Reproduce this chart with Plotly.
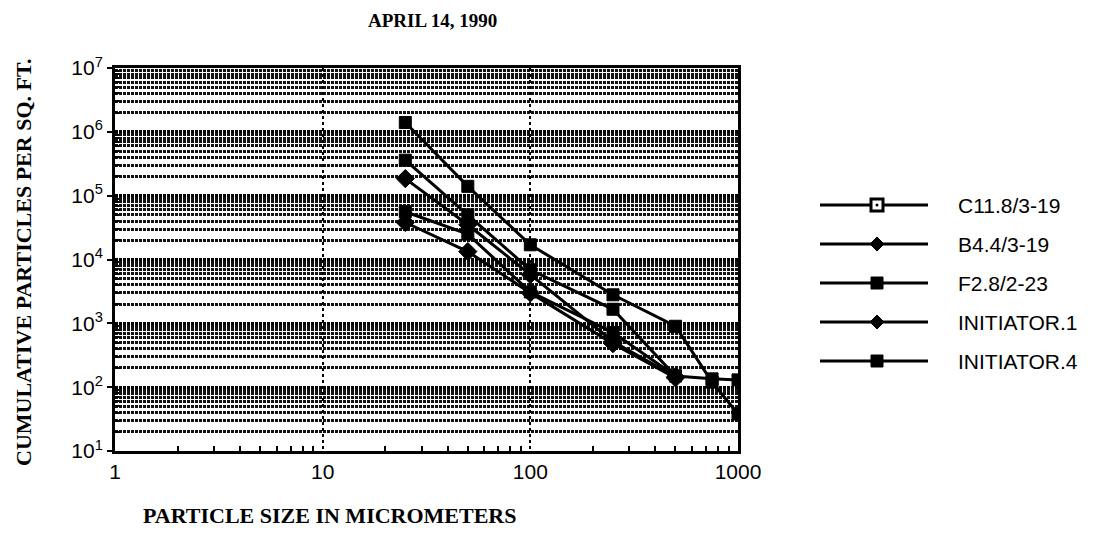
import plotly.graph_objects as go

# ---- data ----
sizes = [25, 50, 100, 250, 500, 750, 1000]
series_names = ["C11.8/3-19", "B4.4/3-19", "F2.8/2-23", "INITIATOR.1", "INITIATOR.4"]
c11 = [5.6e4, 2.5e4, 3.1e3, 7.2e2, 1.5e2, None, None]
b44 = [1.85e5, 3.5e4, 5.8e3, 5.2e2, 1.45e2, None, None]
f28 = [3.6e5, 5.0e4, 6.9e3, 1.66e3, 1.5e2, 1.35e2, 1.3e2]
init1 = [3.8e4, 1.33e4, 3.0e3, 4.8e2, 1.4e2, None, None]
init4 = [1.4e6, 1.4e5, 1.7e4, 2.8e3, 9.0e2, 1.2e2, 3.8e1]
series_values = [c11, b44, f28, init1, init4]
series_symbols = ["square-dot", "diamond", "square", "diamond", "square"]

y_tick_vals = [1e1, 1e2, 1e3, 1e4, 1e5, 1e6, 1e7]
y_tick_text = ["10<sup>1</sup>", "10<sup>2</sup>", "10<sup>3</sup>", "10<sup>4</sup>",
               "10<sup>5</sup>", "10<sup>6</sup>", "10<sup>7</sup>"]
x_tick_vals = [1, 10, 100, 1000]
x_tick_text = ["1", "10", "100", "1000"]

y_minor = [k * 10 ** n for n in range(1, 7) for k in range(2, 10)]
x_minor = [k * 10 ** n for n in range(0, 3) for k in range(2, 10)]

fig = go.Figure()
for name, vals, sym in zip(series_names, series_values, series_symbols):
    xs = [s for s, v in zip(sizes, vals) if v is not None]
    ys = [v for v in vals if v is not None]
    fig.add_trace(go.Scatter(
        x=xs, y=ys, mode="lines+markers", name=name,
        line=dict(color="black", width=3),
        marker=dict(symbol=sym, size=12 if "diamond" not in sym else 14,
                    color="black", line=dict(color="black", width=1)),
        showlegend=False,
    ))

# plot area in reference-page pixels; page body has an 8px margin
OFF = 8
L, R, T, B = 115, 738, 68, 451
PAGE_W, PAGE_H = 1113, 538
W, H = PAGE_W - OFF, PAGE_H - OFF

def px(xp):
    return (xp - L) / (R - L)

def py(yp):
    return (B - yp) / (B - T)

shapes = []
annotations = []
legend_rows = [205, 244, 283, 322, 361]
for name, sym, row in zip(series_names, series_symbols, legend_rows):
    shapes.append(dict(type="line", xref="paper", yref="paper",
                       x0=px(820), x1=px(928), y0=py(row), y1=py(row),
                       line=dict(color="black", width=3)))
    cx, cy = 877, row
    if sym.startswith("square"):
        s = 6
        shapes.append(dict(type="rect", xref="paper", yref="paper",
                           x0=px(cx - s), x1=px(cx + s), y0=py(cy + s), y1=py(cy - s),
                           fillcolor="white" if sym == "square-dot" else "black",
                           line=dict(color="black", width=3 if sym == "square-dot" else 1)))
        if sym == "square-dot":
            shapes.append(dict(type="circle", xref="paper", yref="paper",
                               x0=px(cx - 1.5), x1=px(cx + 1.5), y0=py(cy + 1.5), y1=py(cy - 1.5),
                               fillcolor="black", line=dict(color="black", width=0)))
    else:
        d = 7
        path = "M {} {} L {} {} L {} {} L {} {} Z".format(
            px(cx - d), py(cy), px(cx), py(cy - d), px(cx + d), py(cy), px(cx), py(cy + d))
        shapes.append(dict(type="path", xref="paper", yref="paper", path=path,
                           fillcolor="black", line=dict(color="black", width=1)))
    annotations.append(dict(text=name, xref="paper", yref="paper", x=px(956), y=py(row),
                            xanchor="left", yanchor="middle", showarrow=False,
                            font=dict(family="Liberation Sans, Arial", size=21, color="black")))

serif = "Liberation Serif, Times New Roman"
annotations.append(dict(text="<b>APRIL 14, 1990</b>", xref="paper", yref="paper",
                        x=px(432), y=py(20), xanchor="center", yanchor="middle",
                        showarrow=False, font=dict(family=serif, size=19, color="black")))
annotations.append(dict(text="<b>PARTICLE SIZE IN MICROMETERS</b>", xref="paper", yref="paper",
                        x=px(330), y=py(515), xanchor="center", yanchor="middle",
                        showarrow=False, font=dict(family=serif, size=22, color="black")))
annotations.append(dict(text="<b>CUMULATIVE PARTICLES PER SQ. FT.</b>", xref="paper", yref="paper",
                        x=px(23), y=py(262), xanchor="center", yanchor="middle", textangle=-90,
                        showarrow=False, font=dict(family=serif, size=22, color="black")))

grid_dash = "3px,1px"
tickfont = dict(family="Liberation Sans, Arial", size=21, color="black")
fig.update_layout(
    width=W, height=H,
    margin=dict(l=L - OFF, r=PAGE_W - R, t=T - OFF, b=PAGE_H - B, pad=0),
    paper_bgcolor="white", plot_bgcolor="white",
    showlegend=False,
    shapes=shapes, annotations=annotations,
    xaxis=dict(type="log", range=[0, 3], tickvals=x_tick_vals, ticktext=x_tick_text,
               tickfont=tickfont,
               ticks="", showline=True, linecolor="black", linewidth=3, mirror=True,
               showgrid=True, gridcolor="black", gridwidth=2, griddash="dot",
               minor=dict(tickmode="array", tickvals=x_minor, ticks="inside", ticklen=5,
                          tickwidth=2, tickcolor="black", showgrid=False),
               zeroline=False),
    yaxis=dict(type="log", range=[1, 7], tickvals=y_tick_vals, ticktext=y_tick_text,
               tickfont=tickfont,
               ticks="outside", ticklen=5, tickwidth=2, tickcolor="black",
               showline=True, linecolor="black", linewidth=3, mirror=True,
               showgrid=True, gridcolor="black", gridwidth=3, griddash=grid_dash,
               minor=dict(tickmode="array", tickvals=y_minor, ticks="inside", ticklen=4,
                          tickwidth=2, tickcolor="black", showgrid=True,
                          gridcolor="#111111", gridwidth=2.5, griddash=grid_dash),
               zeroline=False),
)

fig.write_html("out.html")
